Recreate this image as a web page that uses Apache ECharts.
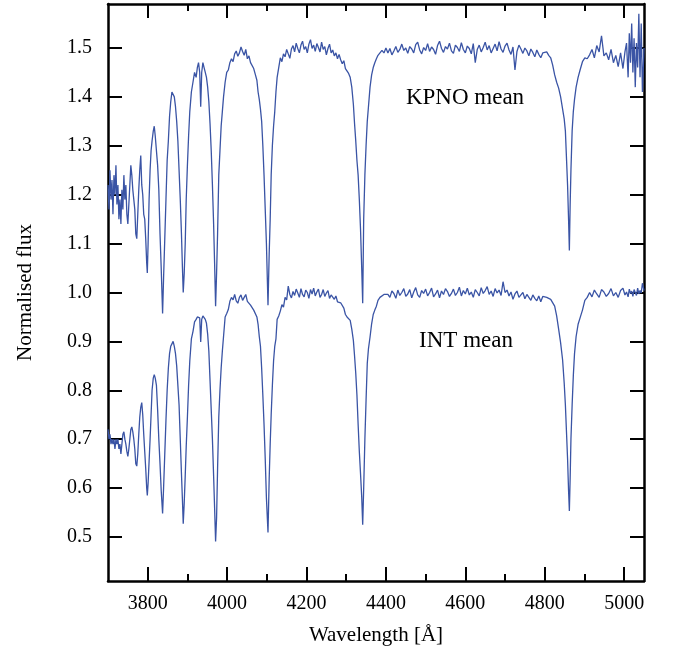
<!DOCTYPE html>
<html>
<head>
<meta charset="utf-8">
<script src="https://cdn.jsdelivr.net/npm/echarts@6.0.0/dist/echarts.min.js"></script>
<style>
  html, body { margin: 0; padding: 0; background: #fff; }
  #chart { width: 676px; height: 656px; }
</style>
</head>
<body>
<div id="chart"></div>
<script>
// wavelength grid (Angstrom), shared by both mean spectra
var wavelength = [
  // 3700 - 3800
  3700, 3702.5, 3705, 3707.5, 3710, 3712.5, 3715, 3717.5, 3720, 3722.5,
  3725, 3727.5, 3730, 3732.5, 3735, 3737.5, 3740, 3742.5, 3745, 3747.5,
  3750, 3752.5, 3755, 3757.5, 3760, 3762.5, 3765, 3767.5, 3770, 3772.5,
  3775, 3777.5, 3780, 3782.5, 3785, 3787.5, 3790, 3792.5, 3795, 3797.5,
  // 3800 - 4000
  3799, 3801, 3803.5, 3806, 3808.5, 3811, 3814, 3816.5, 3819, 3822,
  3825, 3828, 3831, 3834, 3837.5, 3840, 3843, 3846, 3849, 3852,
  3855, 3858, 3861, 3864, 3867, 3870, 3873, 3876, 3879, 3882,
  3885, 3887.5, 3889.5, 3892, 3894.5, 3897, 3900, 3903, 3906, 3910,
  3914, 3918, 3922, 3925, 3928, 3931, 3933.5, 3936, 3939, 3942,
  3945, 3948, 3951, 3954, 3957, 3960, 3963, 3966, 3968.5, 3971,
  3973.5, 3976, 3979, 3982, 3985, 3988, 3991, 3995, 3999,
  // 4000 - 4400
  4003, 4007, 4011, 4015, 4019, 4023, 4027, 4031, 4035, 4039,
  4043, 4047, 4051, 4055, 4059, 4063, 4067, 4071, 4075, 4078,
  4081, 4084, 4087, 4090, 4093, 4096, 4099, 4103, 4106, 4108.5,
  4111, 4114, 4117, 4120, 4123, 4126, 4130, 4134, 4138, 4142,
  4146, 4150, 4154, 4158, 4162, 4166, 4170, 4174, 4178, 4182,
  4186, 4190, 4194, 4198, 4202, 4206, 4210, 4214, 4218, 4222,
  4226, 4230, 4234, 4238, 4242, 4246, 4250, 4254, 4258, 4262,
  4266, 4270, 4274, 4278, 4282, 4286, 4290, 4294, 4298, 4302,
  4306, 4310, 4314, 4318, 4321, 4324, 4327, 4330, 4333, 4336,
  4339, 4341.5, 4344, 4347, 4350, 4353, 4356, 4360, 4364, 4368,
  4372, 4376, 4380, 4385, 4390, 4395, 4400,
  // 4400 - 4790
  4405, 4410, 4415, 4420, 4425, 4430, 4435, 4440, 4445, 4450,
  4455, 4460, 4465, 4470, 4475, 4480, 4485, 4490, 4495, 4500,
  4505, 4510, 4515, 4520, 4525, 4530, 4535, 4540, 4545, 4550,
  4555, 4560, 4565, 4570, 4575, 4580, 4585, 4590, 4595, 4600,
  4605, 4610, 4615, 4620, 4625, 4630, 4635, 4640, 4645, 4650,
  4655, 4660, 4665, 4670, 4675, 4680, 4685, 4690, 4695, 4700,
  4705, 4710, 4715, 4720, 4725, 4730, 4735, 4740, 4745, 4750,
  4755, 4760, 4765, 4770, 4775, 4780, 4785, 4790,
  // 4790 - 5050
  4795, 4800, 4805, 4810, 4815, 4820, 4825, 4830, 4835, 4840,
  4845, 4849, 4852, 4855, 4857.5, 4860, 4862, 4864, 4866, 4869,
  4872, 4875, 4879, 4884, 4889, 4895, 4901, 4907, 4913, 4919,
  4925, 4931, 4937, 4943, 4949, 4955, 4961, 4967, 4973, 4979,
  4985, 4991, 4997, 5002, 5006, 5010, 5013, 5016, 5019, 5022,
  5025, 5028, 5031, 5034, 5037, 5040, 5043, 5046, 5050
];

// KPNO mean spectrum (offset by +0.5)
var kpnoFlux = [
  1.22, 1.17, 1.25, 1.19, 1.23, 1.16, 1.24, 1.20, 1.26, 1.18,
  1.22, 1.15, 1.19, 1.14, 1.21, 1.17, 1.24, 1.19, 1.22, 1.16,
  1.14, 1.18, 1.22, 1.26, 1.24, 1.21, 1.19, 1.17, 1.12, 1.11,
  1.16, 1.21, 1.25, 1.28, 1.22, 1.20, 1.16, 1.15, 1.11, 1.06,

  1.04, 1.10, 1.19, 1.25, 1.29, 1.31, 1.33, 1.34, 1.32, 1.29,
  1.26, 1.21, 1.12, 1.05, 0.957, 1.03, 1.11, 1.19, 1.27, 1.31,
  1.36, 1.39, 1.41, 1.41, 1.40, 1.38, 1.35, 1.31, 1.25, 1.19,
  1.12, 1.05, 1.00, 1.04, 1.10, 1.19, 1.26, 1.32, 1.37, 1.41,
  1.43, 1.45, 1.44, 1.46, 1.47, 1.45, 1.38, 1.45, 1.47, 1.46,
  1.45, 1.44, 1.42, 1.39, 1.345, 1.29, 1.22, 1.14, 1.06, 0.972,
  1.04, 1.12, 1.24, 1.29, 1.34, 1.37, 1.40, 1.43, 1.45,

  1.455, 1.47, 1.478, 1.472, 1.488, 1.494, 1.483, 1.49, 1.502, 1.493,
  1.485, 1.497, 1.478, 1.484, 1.47, 1.466, 1.458, 1.446, 1.434, 1.41,
  1.395, 1.375, 1.35, 1.30, 1.24, 1.17, 1.10, 0.974, 1.08, 1.15,
  1.24, 1.30, 1.34, 1.37, 1.41, 1.44, 1.46, 1.48, 1.472, 1.488,
  1.482, 1.497, 1.488, 1.479, 1.498, 1.505, 1.492, 1.51, 1.499, 1.49,
  1.506, 1.514, 1.497, 1.503, 1.49, 1.508, 1.517, 1.499, 1.506, 1.493,
  1.509, 1.501, 1.492, 1.512, 1.497, 1.503, 1.486, 1.499, 1.508, 1.49,
  1.496, 1.484, 1.49, 1.478, 1.487, 1.476, 1.468, 1.474, 1.458, 1.455,
  1.448, 1.44, 1.42, 1.385, 1.345, 1.31, 1.27, 1.24, 1.19, 1.13,
  1.05, 0.978, 1.15, 1.24, 1.30, 1.35, 1.38, 1.42, 1.445, 1.46,
  1.47, 1.478, 1.485, 1.488, 1.495, 1.49, 1.50,

  1.49, 1.499, 1.486, 1.494, 1.503, 1.491, 1.497, 1.508, 1.495, 1.50,
  1.489, 1.503, 1.498, 1.49, 1.507, 1.512, 1.496, 1.488, 1.501, 1.495,
  1.509, 1.493, 1.502, 1.497, 1.487, 1.505, 1.514, 1.499, 1.491, 1.503,
  1.498, 1.51, 1.494, 1.489, 1.506, 1.501, 1.493, 1.511, 1.497, 1.49,
  1.504, 1.499, 1.488, 1.509, 1.47, 1.497, 1.506, 1.492, 1.501, 1.512,
  1.496, 1.505, 1.49, 1.499, 1.508, 1.494, 1.513, 1.498, 1.491, 1.504,
  1.51, 1.496, 1.487, 1.502, 1.455, 1.493, 1.506, 1.498, 1.489, 1.50,
  1.494, 1.484, 1.498, 1.491, 1.482, 1.496, 1.487, 1.48,

  1.49, 1.488, 1.492, 1.485, 1.48, 1.465, 1.445, 1.43, 1.418, 1.40,
  1.375, 1.355, 1.33, 1.27, 1.22, 1.15, 1.086, 1.18, 1.25, 1.33,
  1.37, 1.395, 1.42, 1.44, 1.455, 1.472, 1.48, 1.478, 1.486, 1.497,
  1.48, 1.505, 1.492, 1.525, 1.484, 1.49, 1.476, 1.497, 1.47, 1.485,
  1.462, 1.49, 1.458, 1.492, 1.51, 1.44, 1.53, 1.47, 1.55, 1.45,
  1.52, 1.42, 1.51, 1.46, 1.57, 1.44, 1.55, 1.41, 1.50
];

// INT mean spectrum
var intFlux = [
  0.72, 0.70, 0.71, 0.69, 0.70, 0.69, 0.70, 0.68, 0.70, 0.69,
  0.70, 0.68, 0.69, 0.67, 0.69, 0.71, 0.715, 0.70, 0.69, 0.675,
  0.665, 0.68, 0.70, 0.72, 0.725, 0.715, 0.70, 0.68, 0.65, 0.645,
  0.67, 0.71, 0.745, 0.765, 0.775, 0.75, 0.71, 0.675, 0.64, 0.60,

  0.585, 0.61, 0.655, 0.70, 0.75, 0.80, 0.825, 0.832, 0.825, 0.81,
  0.76, 0.70, 0.65, 0.595, 0.548, 0.60, 0.67, 0.739, 0.80, 0.845,
  0.875, 0.89, 0.895, 0.90, 0.89, 0.875, 0.85, 0.81, 0.77, 0.70,
  0.63, 0.575, 0.527, 0.57, 0.625, 0.685, 0.745, 0.81, 0.86, 0.905,
  0.92, 0.94, 0.945, 0.95, 0.953, 0.948, 0.899, 0.945, 0.952, 0.95,
  0.945, 0.937, 0.915, 0.88, 0.82, 0.76, 0.70, 0.625, 0.56, 0.491,
  0.54, 0.64, 0.745, 0.80, 0.845, 0.88, 0.91, 0.95, 0.957,

  0.965, 0.982, 0.99, 0.985, 0.996, 0.983, 0.978, 0.99, 0.995, 0.984,
  0.99, 0.996, 0.982, 0.986, 0.974, 0.97, 0.964, 0.96, 0.95, 0.935,
  0.91, 0.89, 0.845, 0.79, 0.73, 0.66, 0.58, 0.509, 0.62, 0.69,
  0.75, 0.81, 0.86, 0.89, 0.905, 0.945, 0.952, 0.962, 0.975, 0.97,
  0.99, 0.985, 1.013, 0.996, 0.989, 1.002, 0.994, 1.007, 0.999, 0.99,
  1.008, 0.996, 0.991, 1.005, 1.0, 0.988, 1.006, 0.997, 1.009, 0.993,
  1.001, 1.007, 0.99, 0.996, 1.006, 0.992, 0.999, 1.004, 0.988, 0.995,
  0.991, 0.986, 0.993, 0.981, 0.985, 0.979, 0.976, 0.968, 0.955, 0.95,
  0.946, 0.943, 0.925, 0.902, 0.87, 0.835, 0.79, 0.73, 0.675, 0.63,
  0.582, 0.525, 0.60, 0.70, 0.78, 0.855, 0.885, 0.909, 0.936, 0.955,
  0.964, 0.972, 0.984, 0.99, 0.993, 0.996, 0.994,

  0.996, 0.99, 1.003, 0.998, 0.988, 1.005, 0.994, 1.0, 1.008, 0.992,
  0.997, 1.006, 0.989, 1.001, 1.01, 0.995, 0.99, 1.004, 0.998, 1.007,
  0.993, 1.0, 1.009, 0.991, 0.997, 1.005, 0.989, 1.003, 0.996, 1.008,
  1.002, 0.992, 0.998, 1.007, 0.994, 1.0, 1.011, 0.993, 1.004, 0.997,
  1.009, 0.995, 1.001, 0.99, 1.006, 1.0, 0.993, 1.01, 0.998, 1.004,
  1.012, 0.996, 1.003, 0.992, 1.008, 0.999, 1.005, 0.994, 1.022, 1.0,
  1.005, 0.993, 1.001, 0.986, 0.997, 1.003, 0.99, 0.995, 1.0, 0.987,
  0.996, 0.99, 0.984, 0.995, 0.988, 0.983, 0.993, 0.981,

  0.992, 0.996, 0.99, 0.993, 0.986, 0.984, 0.972, 0.952, 0.925, 0.897,
  0.862, 0.815, 0.77, 0.71, 0.66, 0.595, 0.553, 0.62, 0.70, 0.77,
  0.83, 0.875, 0.91, 0.935, 0.948, 0.964, 0.984, 0.99, 1.0, 0.991,
  1.005, 0.997, 0.99, 1.006, 1.001, 0.992, 0.998, 1.008, 0.993, 1.0,
  0.99, 1.004, 1.009, 0.995, 1.001, 0.991, 1.007, 0.998, 1.003, 0.992,
  1.006, 1.0, 0.994, 1.009, 0.997, 1.004, 0.999, 1.019, 1.004
];

var xMajorTicks = [3800, 4000, 4200, 4400, 4600, 4800, 5000];
var xMinorTicks = [3900, 4100, 4300, 4500, 4700, 4900];
var yTicks = [0.5, 0.6, 0.7, 0.8, 0.9, 1.0, 1.1, 1.2, 1.3, 1.4, 1.5];
var spectrumNames = ['KPNO mean', 'INT mean'];

var serif = '"Liberation Serif", "Times New Roman", serif';
var lineColor = '#3a54a5';
var frame = { show: true, onZero: false, lineStyle: { color: '#000', width: 2.5 } };

function pairs(flux) {
  return wavelength.map(function (w, i) { return [w, flux[i]]; });
}

function xAxisCfg(position, ticks, len, showLine, showLabel) {
  return {
    type: 'value', position: position, min: 3700, max: 5050,
    axisLine: showLine ? frame : { show: false },
    axisTick: { show: true, inside: true, length: len, customValues: ticks,
      lineStyle: { color: '#000', width: 2 } },
    axisLabel: { show: showLabel, customValues: ticks, margin: 13,
      color: '#000', fontFamily: serif, fontSize: 20,
      formatter: function (v) { return String(v); } },
    splitLine: { show: false }
  };
}

function yAxisCfg(position, showLabel) {
  return {
    type: 'value', position: position, min: 0.41, max: 1.59,
    axisLine: frame,
    axisTick: { show: true, inside: true, length: 14, customValues: yTicks,
      lineStyle: { color: '#000', width: 2 } },
    axisLabel: { show: showLabel, customValues: yTicks, margin: 16,
      color: '#000', fontFamily: serif, fontSize: 20,
      formatter: function (v) { return v.toFixed(1); } },
    splitLine: { show: false }
  };
}

var xBottom = xAxisCfg('bottom', xMajorTicks, 14, true, true);
xBottom.name = 'Wavelength [Å]';
xBottom.nameLocation = 'middle';
xBottom.nameGap = 44;
xBottom.nameTextStyle = { color: '#000', fontFamily: serif, fontSize: 21 };

var yLeft = yAxisCfg('left', true);
yLeft.name = 'Normalised flux';
yLeft.nameLocation = 'middle';
yLeft.nameGap = 72;
yLeft.nameTextStyle = { color: '#000', fontFamily: serif, fontSize: 21 };

var chart = echarts.init(document.getElementById('chart'));
chart.setOption({
  animation: false,
  backgroundColor: '#fff',
  grid: { left: 108, right: 32, top: 4, bottom: 75 },
  xAxis: [
    xBottom,
    xAxisCfg('bottom', xMinorTicks, 7, false, false),
    xAxisCfg('top', xMajorTicks, 14, true, false),
    xAxisCfg('top', xMinorTicks, 7, false, false)
  ],
  yAxis: [yLeft, yAxisCfg('right', false)],
  series: [
    { name: spectrumNames[0], type: 'line', data: pairs(kpnoFlux),
      showSymbol: false, symbol: 'none', clip: true, silent: true,
      lineStyle: { color: lineColor, width: 1.3 } },
    { name: spectrumNames[1], type: 'line', data: pairs(intFlux),
      showSymbol: false, symbol: 'none', clip: true, silent: true,
      lineStyle: { color: lineColor, width: 1.3 } }
  ],
  graphic: [
    { type: 'text', x: 465, y: 98,
      style: { text: spectrumNames[0], fill: '#000', font: '23px ' + serif,
        align: 'center', verticalAlign: 'middle' } },
    { type: 'text', x: 466, y: 341,
      style: { text: spectrumNames[1], fill: '#000', font: '23px ' + serif,
        align: 'center', verticalAlign: 'middle' } }
  ]
});
</script>
</body>
</html>
